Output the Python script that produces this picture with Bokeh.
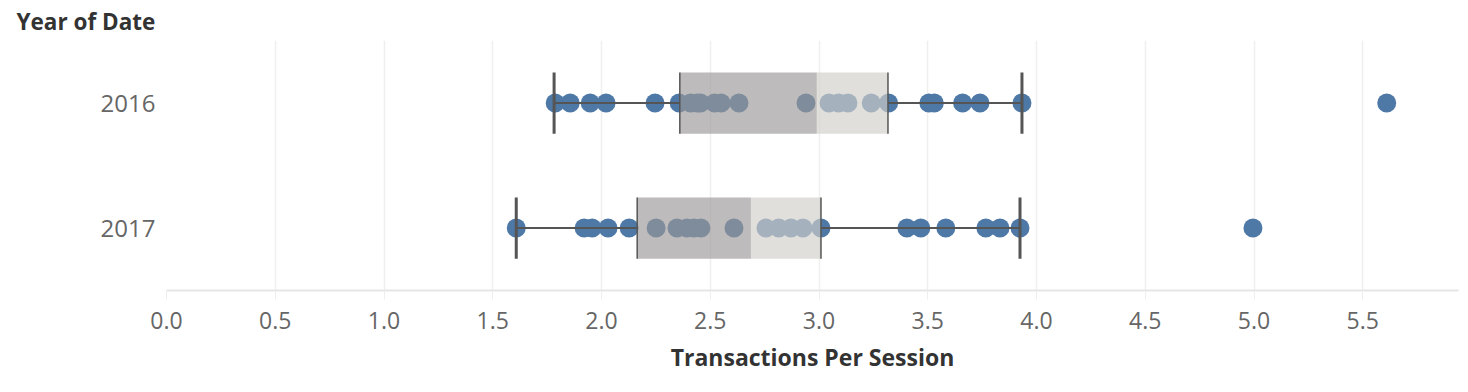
from bokeh.plotting import figure
from bokeh.models import Range1d, FixedTicker, NumeralTickFormatter
from bokeh.embed import file_html
from bokeh.resources import INLINE

# ---------------- data ----------------
years = ["2016", "2017"]
tps_2016 = [1.787, 1.856, 1.948, 2.021, 2.246, 2.357, 2.41, 2.44, 2.455, 2.52, 2.55,
            2.632, 2.94, 3.046, 3.09, 3.133, 3.24, 3.32, 3.505, 3.53, 3.66, 3.74, 3.933, 5.61]
tps_2017 = [1.608, 1.92, 1.957, 2.03, 2.127, 2.251, 2.347, 2.393, 2.425, 2.457, 2.609,
            2.756, 2.815, 2.871, 2.926, 3.009, 3.404, 3.468, 3.583, 3.767, 3.832, 3.924, 4.995]
q1 = [2.36, 2.164]
median = [2.99, 2.687]
q3 = [3.317, 3.009]
whisker_low = [1.782, 1.608]
whisker_high = [3.933, 3.924]
x_ticks = [0.0, 0.5, 1.0, 1.5, 2.0, 2.5, 3.0, 3.5, 4.0, 4.5, 5.0, 5.5]

row = {"2016": 1, "2017": 0}
ys = [row[y] for y in years]
half = 0.245

FONT = "Open Sans"
BLUE = "#4e79a7"
DARK = "#555555"

p = figure(width=1460, height=384,
           x_range=Range1d(0, 5.94), y_range=Range1d(-0.5, 1.5),
           output_backend="svg", toolbar_location=None,
           min_border_left=166, min_border_right=2,
           min_border_top=37, min_border_bottom=94,
           outline_line_color=None)

# points
p.scatter(x=tps_2016, y=[row["2016"]] * len(tps_2016), size=19,
          fill_color=BLUE, line_color=None)
p.scatter(x=tps_2017, y=[row["2017"]] * len(tps_2017), size=19,
          fill_color=BLUE, line_color=None)

# boxes (drawn over points, semi-transparent)
p.hbar(y=ys, left=q1, right=median, height=2 * half,
       fill_color=(153, 150, 151), fill_alpha=0.65, line_color=None)
p.hbar(y=ys, left=median, right=q3, height=2 * half,
       fill_color=(208, 207, 201), fill_alpha=0.667, line_color=None)

lo = [v - half for v in ys]
hi = [v + half for v in ys]
# box edges
p.segment(x0=q1, x1=q1, y0=lo, y1=hi, line_color=DARK, line_width=1.5)
p.segment(x0=q3, x1=q3, y0=lo, y1=hi, line_color=DARK, line_width=1.5)
# whiskers
p.segment(x0=whisker_low, x1=q1, y0=ys, y1=ys, line_color=DARK, line_width=2)
p.segment(x0=q3, x1=whisker_high, y0=ys, y1=ys, line_color=DARK, line_width=2)
p.segment(x0=whisker_low, x1=whisker_low, y0=lo, y1=hi, line_color=DARK, line_width=3)
p.segment(x0=whisker_high, x1=whisker_high, y0=lo, y1=hi, line_color=DARK, line_width=3)

# x axis
p.xaxis.ticker = FixedTicker(ticks=x_ticks)
p.xaxis.formatter = NumeralTickFormatter(format="0.0")
p.xaxis.axis_label = "Transactions Per Session"
p.xaxis.axis_label_text_font = FONT
p.xaxis.axis_label_text_font_style = "bold"
p.xaxis.axis_label_text_font_size = "23px"
p.xaxis.axis_label_text_color = "#333333"
p.xaxis.axis_label_standoff = 9
p.xaxis.major_label_text_font = FONT
p.xaxis.major_label_text_font_size = "23px"
p.xaxis.major_label_text_color = "#666666"
p.xaxis.major_label_standoff = 12
p.xaxis.axis_line_color = "#e6e6e6"
p.xaxis.axis_line_width = 2
p.xaxis.major_tick_line_color = "#eeeeee"
p.xaxis.major_tick_in = 0
p.xaxis.major_tick_out = 9
p.xaxis.minor_tick_line_color = None

p.xgrid.ticker = FixedTicker(ticks=x_ticks)
p.xgrid.grid_line_color = "#efefef"
p.xgrid.grid_line_width = 1.5
p.ygrid.visible = False

# y axis
p.yaxis.ticker = FixedTicker(ticks=ys)
p.yaxis.major_label_overrides = {row[y]: y for y in years}
p.yaxis.major_label_text_font = FONT
p.yaxis.major_label_text_font_size = "24px"
p.yaxis.major_label_text_color = "#666666"
p.yaxis.major_label_standoff = 11
p.yaxis.axis_line_color = None
p.yaxis.major_tick_line_color = None
p.yaxis.major_tick_in = 0
p.yaxis.major_tick_out = 0
p.yaxis.minor_tick_line_color = None

# title
p.title.text = "Year of Date"
p.title.align = "left"
p.title.offset = -150
p.title.text_font = FONT
p.title.text_font_size = "22.5px"
p.title.text_font_style = "bold"
p.title.text_color = "#333333"
p.title.standoff = 7

open("out.html", "w").write(file_html(p, INLINE))
